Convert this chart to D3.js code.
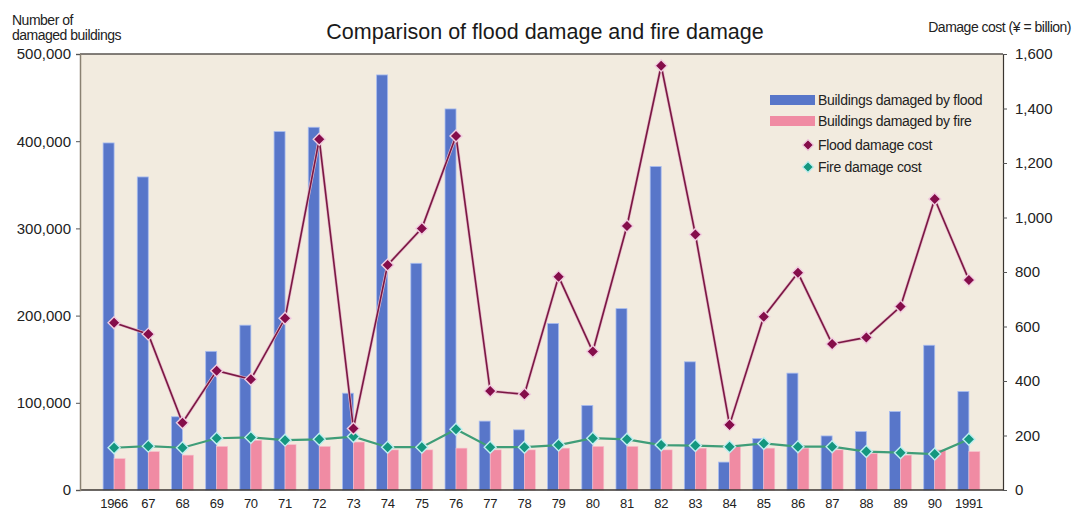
<!DOCTYPE html>
<html>
<head>
<meta charset="utf-8">
<script src="https://cdn.jsdelivr.net/npm/d3@7"></script>
<style>
  html, body { margin: 0; padding: 0; background: #ffffff; }
  svg { display: block; font-family: "Liberation Sans", Arial, sans-serif; }
</style>
</head>
<body>
<svg id="chart" width="1075" height="515"></svg>
<script>
// Years on the x axis
const years = ["1966","67","68","69","70","71","72","73","74","75","76","77","78","79","80","81","82","83","84","85","86","87","88","89","90","1991"];

// Number of buildings damaged (left axis)
const floodBuildings = [398000,359000,84000,159000,189000,411000,416000,111000,476000,260000,437000,79000,69000,191000,97000,208000,371000,147000,32000,59000,134000,62000,67000,90000,166000,113000];
const fireBuildings  = [36000,44000,40000,50000,57000,52000,50000,55000,46000,46000,48000,46000,46000,48000,50000,50000,46000,48000,50000,48000,48000,46000,42000,40000,46000,44000];

// Damage cost in ¥ billion (right axis)
const floodCost = [614,572,247,438,406,630,1287,226,826,960,1299,363,351,783,508,969,1557,938,239,636,797,536,560,673,1068,771];
const fireCost  = [155,161,155,190,193,183,186,196,157,157,223,157,157,165,190,186,165,163,159,171,159,159,141,137,132,186];

// Axis ticks
const leftTicks  = [0,100000,200000,300000,400000,500000];
const rightTicks = [0,200,400,600,800,1000,1200,1400,1600];

const svg = d3.select("#chart");
const plot = { left: 80, right: 1003, top: 54, bottom: 490 };

const x = d3.scaleBand().domain(years).range([97, 986]).paddingInner(0).paddingOuter(0);
const yL = d3.scaleLinear().domain([0, 500000]).range([plot.bottom, plot.top]);
const yR = d3.scaleLinear().domain([0, 1600]).range([plot.bottom, plot.top]);

const barW = 11;

// Plot background
svg.append("rect")
  .attr("x", plot.left).attr("y", plot.top)
  .attr("width", plot.right - plot.left).attr("height", plot.bottom - plot.top)
  .attr("fill", "#f2ebdf");

// Title and axis titles
svg.append("text")
  .attr("x", 545).attr("y", 39)
  .attr("text-anchor", "middle")
  .attr("font-size", 21.5)
  .attr("fill", "#1a1a1a")
  .text("Comparison of flood damage and fire damage");

svg.append("text").attr("x", 12).attr("y", 25).attr("font-size", 14).attr("fill", "#222")
  .attr("letter-spacing", -0.5).text("Number of");
svg.append("text").attr("x", 12).attr("y", 40).attr("font-size", 14).attr("fill", "#222")
  .attr("letter-spacing", -0.5).text("damaged buildings");
svg.append("text").attr("x", 1071).attr("y", 32).attr("text-anchor", "end").attr("font-size", 14)
  .attr("fill", "#222").attr("letter-spacing", -0.5).text("Damage cost (¥ = billion)");

// Bars
const groups = svg.append("g").selectAll("g")
  .data(years.map((yr, i) => ({ yr, flood: floodBuildings[i], fire: fireBuildings[i] })))
  .join("g");

groups.append("rect")
  .attr("x", d => x(d.yr) + x.bandwidth() / 2 - barW)
  .attr("y", d => yL(d.flood))
  .attr("width", barW)
  .attr("height", d => plot.bottom - yL(d.flood))
  .attr("fill", "#5876c9")
  .attr("stroke", "#a9bdf0").attr("stroke-width", 0.8);

groups.append("rect")
  .attr("x", d => x(d.yr) + x.bandwidth() / 2)
  .attr("y", d => yL(d.fire))
  .attr("width", barW)
  .attr("height", d => plot.bottom - yL(d.fire))
  .attr("fill", "#f08ba3")
  .attr("stroke", "#f7c0cc").attr("stroke-width", 0.6);

// Cost lines
const cx = yr => x(yr) + x.bandwidth() / 2;
const lineGen = d3.line().x(d => cx(d.yr)).y(d => yR(d.v));
const floodPts = years.map((yr, i) => ({ yr, v: floodCost[i] }));
const firePts  = years.map((yr, i) => ({ yr, v: fireCost[i] }));

svg.append("path").datum(firePts).attr("d", lineGen)
  .attr("fill", "none").attr("stroke", "#3f9d78").attr("stroke-width", 2.2);

svg.append("path").datum(floodPts).attr("d", lineGen)
  .attr("fill", "none").attr("stroke", "#e6b7c8").attr("stroke-width", 3);
svg.append("path").datum(floodPts).attr("d", lineGen)
  .attr("fill", "none").attr("stroke", "#7a1843").attr("stroke-width", 1.6);

const diamond = r => `M0,${-r}L${r},0L0,${r}L${-r},0Z`;

svg.append("g").selectAll("path").data(firePts).join("path")
  .attr("d", diamond(6))
  .attr("transform", d => `translate(${cx(d.yr)},${yR(d.v)})`)
  .attr("fill", "#14977f").attr("stroke", "#bdeef0").attr("stroke-width", 1.4);

svg.append("g").selectAll("path").data(floodPts).join("path")
  .attr("d", diamond(6))
  .attr("transform", d => `translate(${cx(d.yr)},${yR(d.v)})`)
  .attr("fill", "#850d4a").attr("stroke", "#f1cde0").attr("stroke-width", 1.4);

// Frame lines
svg.append("line").attr("x1", plot.left).attr("x2", plot.right).attr("y1", plot.top).attr("y2", plot.top)
  .attr("stroke", "#5a5550").attr("stroke-width", 1.5);
svg.append("line").attr("x1", plot.left).attr("x2", plot.right).attr("y1", plot.bottom).attr("y2", plot.bottom)
  .attr("stroke", "#3a3530").attr("stroke-width", 1.5);

// Left axis
const axL = svg.append("g").attr("transform", `translate(${plot.left},0)`)
  .call(d3.axisLeft(yL).tickValues(leftTicks).tickFormat(d3.format(",")).tickSize(4).tickPadding(5));
axL.select(".domain").attr("stroke", "#8a8172").attr("stroke-width", 1.5);
axL.selectAll(".tick line").attr("stroke", "#555");
axL.selectAll(".tick text").attr("font-size", 15).attr("fill", "#222")
  .attr("font-family", "Liberation Sans, Arial, sans-serif");

// Right axis
const axR = svg.append("g").attr("transform", `translate(${plot.right},0)`)
  .call(d3.axisRight(yR).tickValues(rightTicks).tickFormat(d3.format(",")).tickSize(4).tickPadding(8));
axR.select(".domain").attr("stroke", "#3a3530").attr("stroke-width", 1.2);
axR.selectAll(".tick line").attr("stroke", "#555");
axR.selectAll(".tick text").attr("font-size", 15).attr("fill", "#222")
  .attr("font-family", "Liberation Sans, Arial, sans-serif");

// Bottom axis labels
const axB = svg.append("g").attr("transform", `translate(0,${plot.bottom})`)
  .call(d3.axisBottom(x).tickSize(0).tickPadding(9));
axB.select(".domain").remove();
axB.selectAll(".tick text").attr("font-size", 13).attr("fill", "#222")
  .attr("font-family", "Liberation Sans, Arial, sans-serif").attr("letter-spacing", -0.3);

// Legend
const legend = svg.append("g");
const legendItems = [
  { label: "Buildings damaged by flood", type: "bar", color: "#5876c9", y: 100 },
  { label: "Buildings damaged by fire",  type: "bar", color: "#f08ba3", y: 121 },
  { label: "Flood damage cost", type: "dot", color: "#850d4a", stroke: "#f1cde0", y: 145 },
  { label: "Fire damage cost",  type: "dot", color: "#14977f", stroke: "#bdeef0", y: 167 }
];
legendItems.forEach(it => {
  if (it.type === "bar") {
    legend.append("rect").attr("x", 770).attr("y", it.y - 5).attr("width", 45).attr("height", 10)
      .attr("fill", it.color);
  } else {
    legend.append("path").attr("d", diamond(5.5))
      .attr("transform", `translate(808,${it.y})`)
      .attr("fill", it.color).attr("stroke", it.stroke).attr("stroke-width", 1.2);
  }
  legend.append("text").attr("x", 818).attr("y", it.y + 5)
    .attr("font-size", 14).attr("fill", "#222").attr("letter-spacing", -0.3)
    .text(it.label);
});
</script>
</body>
</html>
